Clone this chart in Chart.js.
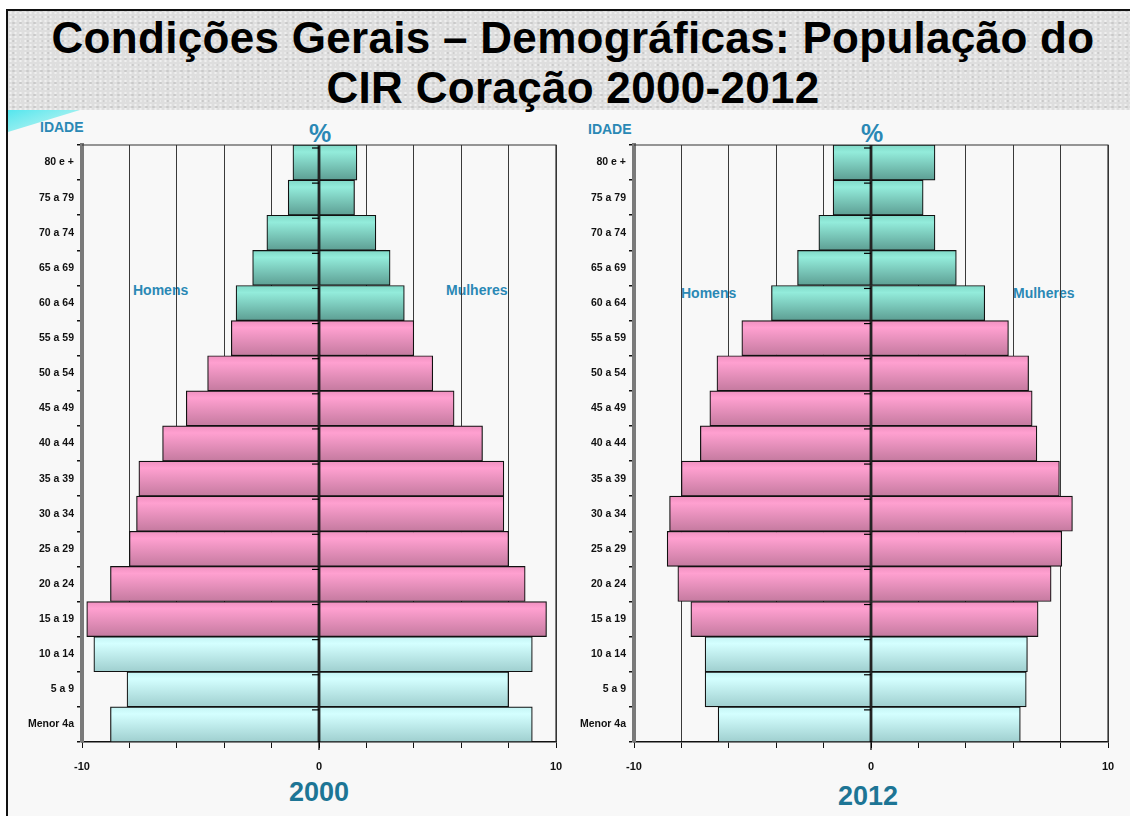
<!DOCTYPE html>
<html>
<head>
<meta charset="utf-8">
<script src="https://cdn.jsdelivr.net/npm/chart.js@4/dist/chart.umd.min.js"></script>
<style>
  html, body { margin: 0; padding: 0; }
  body { width: 1130px; height: 816px; position: relative; overflow: hidden; background: #ffffff; font-family: "Liberation Sans", Arial, sans-serif; }
  .frame { position: absolute; left: 6px; top: 9px; width: 1130px; height: 820px; border-top: 2px solid #111; border-left: 2px solid #111; background: #f8f8f8; }
  .band { position: absolute; left: 8px; top: 11px; width: 1122px; height: 99px;
    background-color: #dedede;
    background-image: radial-gradient(rgba(255,255,255,0.55) 1px, transparent 1.4px), radial-gradient(rgba(160,160,160,0.35) 1px, transparent 1.5px);
    background-size: 5px 4px, 7px 6px; background-position: 0 0, 2px 3px; }
  .titre { position: absolute; left: 0; width: 1146px; text-align: center; font-weight: bold; font-size: 44px; color: #000; letter-spacing: 0.3px; }
  .swoosh { position: absolute; left: 8px; top: 110px; width: 72px; height: 22px; background: linear-gradient(160deg, #55e6ee, #9ff0f0 60%, #ffffff); clip-path: polygon(0 0, 100% 0, 0 100%); }
  .lbl { position: absolute; font-weight: bold; color: #2a88b5; white-space: nowrap; }
  .annee { position: absolute; font-weight: bold; font-size: 27px; color: #1d7595; transform: translateX(-50%); }
  canvas { position: absolute; }
</style>
</head>
<body>
<div class="frame"></div>
<div class="band"></div>
<div class="swoosh"></div>
<div class="titre" style="top:13px;">Condições Gerais – Demográficas: População do</div>
<div class="titre" style="top:63px;">CIR Coração 2000-2012</div>

<div class="lbl" style="left:40px; top:119px; font-size:14px;">IDADE</div>
<div class="lbl" style="left:588px; top:121px; font-size:14px;">IDADE</div>
<div class="lbl" style="left:320px; top:119px; font-size:25px; transform:translateX(-50%);">%</div>
<div class="lbl" style="left:872px; top:119px; font-size:25px; transform:translateX(-50%);">%</div>
<div class="lbl" style="left:133px; top:282px; font-size:14px;">Homens</div>
<div class="lbl" style="left:446px; top:282px; font-size:14px;">Mulheres</div>
<div class="lbl" style="left:681px; top:285px; font-size:14px;">Homens</div>
<div class="lbl" style="left:1013px; top:285px; font-size:14px;">Mulheres</div>
<div class="annee" style="left:319px; top:777px;">2000</div>
<div class="annee" style="left:868px; top:781px;">2012</div>

<canvas id="chart2000" style="left:8px; top:130px;" width="560" height="650"></canvas>
<canvas id="chart2012" style="left:570px; top:130px;" width="560" height="650"></canvas>

<script>
// faixas etarias, da mais velha (topo) para a mais nova
const idades = ['80 e +', '75 a 79', '70 a 74', '65 a 69', '60 a 64', '55 a 59', '50 a 54', '45 a 49', '40 a 44', '35 a 39', '30 a 34', '25 a 29', '20 a 24', '15 a 19', '10 a 14', '5 a 9', 'Menor 4a'];
// % da populacao
const homens2000 = [1.1, 1.3, 2.2, 2.8, 3.5, 3.7, 4.7, 5.6, 6.6, 7.6, 7.7, 8.0, 8.8, 9.8, 9.5, 8.1, 8.8];
const mulheres2000 = [1.6, 1.5, 2.4, 3.0, 3.6, 4.0, 4.8, 5.7, 6.9, 7.8, 7.8, 8.0, 8.7, 9.6, 9.0, 8.0, 9.0];
const homens2012 = [1.6, 1.6, 2.2, 3.1, 4.2, 5.45, 6.5, 6.8, 7.2, 8.0, 8.5, 8.6, 8.15, 7.6, 7.0, 7.0, 6.45];
const mulheres2012 = [2.7, 2.2, 2.7, 3.6, 4.8, 5.8, 6.65, 6.8, 7.0, 7.95, 8.5, 8.05, 7.6, 7.05, 6.6, 6.55, 6.3];
const tickLabels = [-10, 0, 10];

// idosos / adultos / jovens
function paleta(i) {
  if (i <= 4) return ['#93ecdb', '#80d8c7', '#5d9e93'];
  if (i <= 13) return ['#ffa0d0', '#f090c0', '#c47a9f'];
  return ['#d4ffff', '#c4f4f4', '#9fcfcf'];
}

function degrade(c) {
  const chart = c.chart, area = chart.chartArea, p = paleta(c.dataIndex);
  if (!area) return p[1];
  const y = chart.scales.y.getPixelForValue(c.dataIndex);
  const h = area.height / idades.length;
  const g = chart.ctx.createLinearGradient(0, y - h / 2, 0, y + h / 2);
  g.addColorStop(0, p[1]); g.addColorStop(0.2, p[0]); g.addColorStop(1, p[2]);
  return g;
}

// parede do fundo (moldura) antes das barras
const parede = {
  id: 'parede',
  beforeDatasetsDraw(chart) {
    const ctx = chart.ctx, a = chart.chartArea;
    ctx.save();
    ctx.strokeStyle = '#333'; ctx.lineWidth = 1.2;
    ctx.beginPath(); ctx.moveTo(a.left, a.top); ctx.lineTo(a.right, a.top); ctx.lineTo(a.right, a.bottom); ctx.stroke();
    ctx.restore();
  }
};

// linha do zero por cima das barras + pequenos tracos
const eixoZero = {
  id: 'eixoZero',
  afterDatasetsDraw(chart) {
    const ctx = chart.ctx, x = chart.scales.x.getPixelForValue(0), a = chart.chartArea;
    ctx.save();
    ctx.strokeStyle = '#000'; ctx.lineWidth = 1.2;
    ctx.beginPath(); ctx.moveTo(x, a.top); ctx.lineTo(x, a.bottom + 8); ctx.stroke();
    const h = a.height / idades.length;
    for (let i = 0; i < idades.length; i++) {
      const yy = a.top + i * h + 3;
      ctx.beginPath(); ctx.moveTo(x - 7, yy); ctx.lineTo(x, yy); ctx.stroke();
    }
    ctx.restore();
  }
};

function piramide(id, homens, mulheres, yLarg, dirPad) {
  return new Chart(document.getElementById(id), {
    type: 'bar',
    data: {
      labels: idades,
      datasets: [
        { label: 'Homens', data: homens.map(v => -v), backgroundColor: degrade, borderColor: '#111', borderWidth: 1.2, borderSkipped: false },
        { label: 'Mulheres', data: mulheres, backgroundColor: degrade, borderColor: '#111', borderWidth: 1.2, borderSkipped: false }
      ]
    },
    options: {
      indexAxis: 'y', responsive: false, animation: false,
      barPercentage: 1, categoryPercentage: 1,
      layout: { padding: { top: 15, right: dirPad, left: 0, bottom: 0 } },
      plugins: { legend: { display: false }, tooltip: { enabled: false } },
      scales: {
        x: {
          stacked: true, min: -10, max: 10,
          afterFit: s => { s.height = 38; s.paddingLeft = 0; s.paddingRight = 0; },
          border: { color: '#111', width: 1.5 },
          grid: { color: c => c.tick && c.tick.value === 0 ? 'rgba(0,0,0,0)' : '#3a3a3a', lineWidth: 1, tickLength: 6, tickColor: '#111' },
          ticks: { stepSize: 2, autoSkip: false, maxRotation: 0, color: '#111', padding: 12, font: { family: 'Liberation Sans', size: 11, weight: 'bold' },
            callback: v => tickLabels.includes(v) ? String(v) : '' }
        },
        y: {
          stacked: true,
          afterFit: s => { s.width = yLarg; },
          border: { color: '#7a7a7a', width: 4 },
          grid: { drawOnChartArea: false, offset: true, tickLength: 5, tickColor: '#111', lineWidth: 1.5 },
          ticks: { color: '#111', padding: 3, font: { family: 'Liberation Sans', size: 10.5, weight: 'bold' } }
        }
      }
    },
    plugins: [parede, eixoZero]
  });
}

piramide('chart2000', homens2000, mulheres2000, 74, 12);
piramide('chart2012', homens2012, mulheres2012, 64, 22);
</script>
</body>
</html>
